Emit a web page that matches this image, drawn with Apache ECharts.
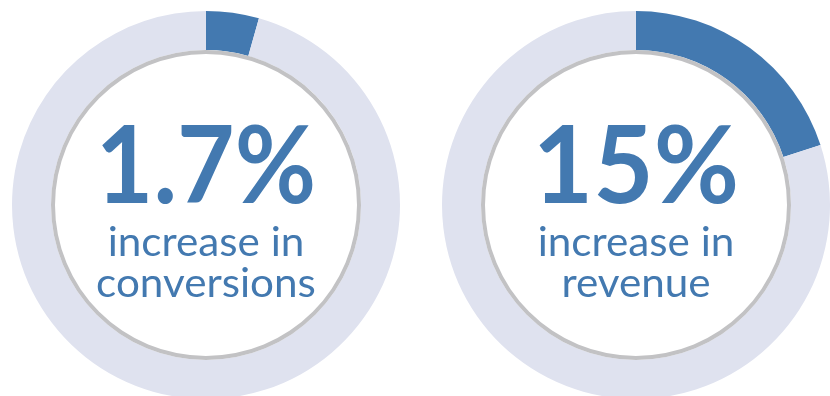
<!DOCTYPE html>
<html><head><meta charset="utf-8">
<script src="https://cdn.jsdelivr.net/npm/echarts@6/dist/echarts.min.js"></script>
<style>html,body{margin:0;padding:0;background:#fff}#c{width:830px;height:396px}</style>
</head><body><div id="c"></div>
<script>
// Data
const labels = ['1.7%', '15%'];
const captions = [['increase in', 'conversions'], ['increase in', 'revenue']];
const arcShare = [4.4, 20];   // share of ring filled (as drawn), in %
const total = 100;

// Layout / style
const centers = [[206, 205], [636, 205]];
const numScale = [0.92, 0.965];
const BLUE = '#4379b0', PALE = '#dfe2ef', GRAY = '#c2c2c4';

const chart = echarts.init(document.getElementById('c'));
const series = [];
const graphic = [];
arcShare.forEach((v, i) => {
  series.push({
    type: 'pie', silent: true, center: centers[i], radius: [155, 194],
    startAngle: 90, clockwise: true, label: {show: false}, labelLine: {show: false},
    emphasis: {disabled: true},
    data: [{value: v, itemStyle: {color: BLUE}}, {value: total - v, itemStyle: {color: PALE}}]
  });
  series.push({
    type: 'pie', silent: true, center: centers[i], radius: [151, 155],
    label: {show: false}, labelLine: {show: false}, emphasis: {disabled: true},
    data: [{value: 1, itemStyle: {color: GRAY}}]
  });
  graphic.push({
    type: 'text', x: centers[i][0], y: 114, scaleX: numScale[i], silent: true,
    style: {text: labels[i], fill: BLUE, font: 'bold 108px Lato', textAlign: 'center', textVerticalAlign: 'top'}
  });
  captions[i].forEach((t, j) => {
    graphic.push({
      type: 'text', x: centers[i][0], y: 222 + j * 41, scaleX: 1.03, silent: true,
      style: {text: t, fill: BLUE, font: '400 41px Lato', textAlign: 'center', textVerticalAlign: 'top'}
    });
  });
});
chart.setOption({backgroundColor: '#fff', animation: false, series, graphic});
</script></body></html>
